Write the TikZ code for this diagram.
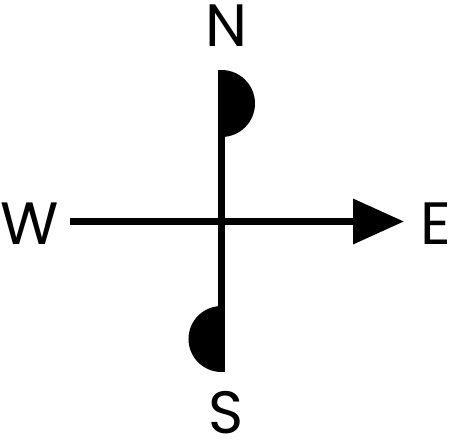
\documentclass[tikz,border=0pt]{standalone}
\usepackage{fontspec}
\setsansfont{Poppins}
\usepackage{tikz}
\usetikzlibrary{arrows.meta}

\begin{document}
\begin{tikzpicture}[
    x=0.02cm, y=0.02cm,
    letter/.style={inner sep=0pt, font=\sffamily\fontsize{34}{34}\selectfont},
    axis/.style={line width=0.14cm},
    arrow/.style={axis, -{Triangle[length=1.02cm, width=0.88cm]}},
    flag/.style={fill=black}
]
\useasboundingbox (0,0) rectangle (451,444);

% Nodes
\node (north) [letter, anchor=base] at (226.5,398) {N};
\node (south) [letter, anchor=base] at (226.5,10) {S};
\node (west) [letter, anchor=base west] at (0,199) {W};
\node (east) [letter, anchor=base east] at (451,199) {E};

\coordinate (top) at (221.5,374);
\coordinate (bottom) at (221.5,72);
\coordinate (left) at (70,222.5);
\coordinate (right) at (404,222.5);

% Half discs
\fill [flag] (top) arc[start angle=90, end angle=-90, radius=33.5] -- cycle;
\fill [flag] (bottom) arc[start angle=-90, end angle=-270, radius=33] -- cycle;

% Arrows
\draw [axis] (top) -- (bottom);
\draw [arrow] (left) -- (right);

\end{tikzpicture}
\end{document}
